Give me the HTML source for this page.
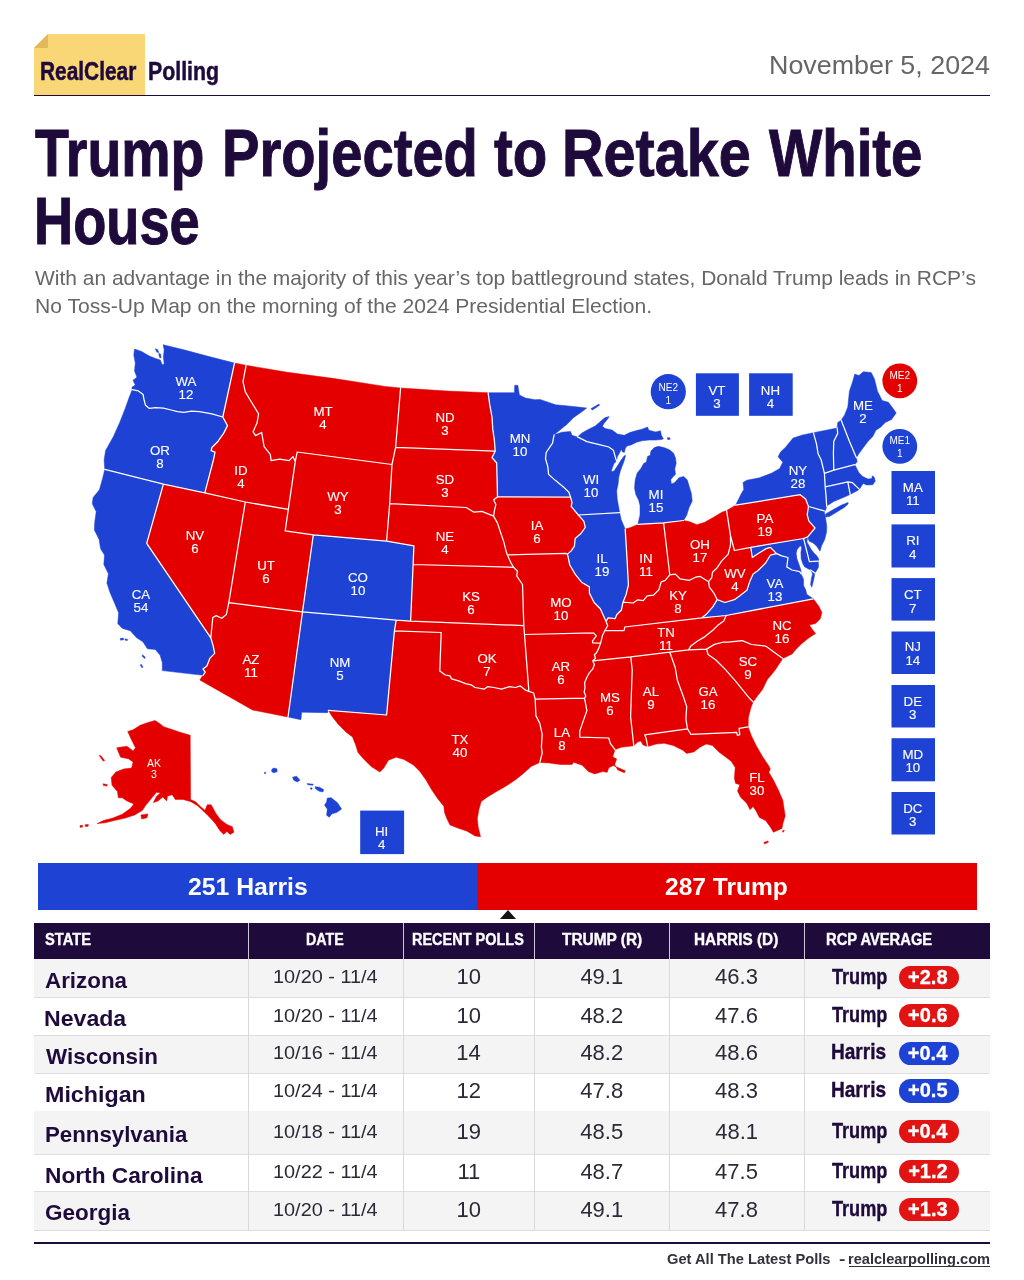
<!DOCTYPE html>
<html lang="en">
<head>
<meta charset="utf-8">
<title>RealClear Polling - Trump Projected to Retake White House</title>
<style>
html,body{margin:0;padding:0;background:#fff;}
body{width:1024px;height:1280px;position:relative;overflow:hidden;font-family:"Liberation Sans",sans-serif;color:#1f0a3c;}
.abs{position:absolute;white-space:nowrap;}
.t{transform-origin:0 0;line-height:1;display:block;}
#logo-box{left:34px;top:34px;width:111px;height:61px;background:#f9d777;}
#rule-top{left:34px;top:94.6px;width:956px;height:1.9px;background:#1f0a3c;}
#bar-blue{left:38px;top:862.7px;width:439px;height:47.5px;background:#1d42d4;}
#bar-red{left:476.6px;top:862.7px;width:500.4px;height:47.5px;background:#e50000;}
#tri{left:500.4px;top:910.4px;width:0;height:0;border-left:8px solid transparent;border-right:8px solid transparent;border-bottom:9px solid #141414;}
#thead{left:34px;top:922.6px;width:956.4px;height:36.8px;background:#1f0a3c;}

.row{left:34px;width:956.4px;border-bottom:1px solid #dedede;box-sizing:border-box;}
.odd{background:#f4f4f4;}
.vline{top:959.4px;width:1px;height:270.7px;background:#d9d9d9;}
.vlineh{top:922.6px;width:1px;height:36.8px;background:#cfc6da;}
.pill{height:23.4px;border-radius:11.7px;left:899.1px;width:59.7px;}
.pr{background:#e11313;}
.pb{background:#1d42d4;}
#rule-bot{left:34px;top:1242.1px;width:956.3px;height:1.9px;background:#1f0a3c;}
</style>
</head>
<body>
<div id="logo-box" class="abs"></div>
<svg class="abs" style="left:34px;top:34px" width="16" height="16" viewBox="0 0 16 16"><polygon points="0,0 14,0 0,14" fill="#fff"/><polygon points="14,0 14,14 0,14" fill="#e2b95a"/></svg>
<div id="rule-top" class="abs"></div>

<span class="abs t" style="left:39.81px;top:59.35px;font-size:25.4px;font-weight:bold;color:#1f0a3c;transform:scaleX(0.8218);-webkit-text-stroke:0.5px #1f0a3c;">RealClear </span>
<span class="abs t" style="left:147.88px;top:59.35px;font-size:25.4px;font-weight:bold;color:#1f0a3c;transform:scaleX(0.8403);-webkit-text-stroke:0.5px #1f0a3c;">Polling </span>
<span class="abs t" style="left:768.80px;top:52.70px;font-size:25px;color:#666666;transform:scaleX(1.0745);">November 5, 2024 </span>
<span class="abs t" style="left:34.99px;top:119.10px;font-size:67px;font-weight:bold;color:#1f0a3c;transform:scaleX(0.8278);-webkit-text-stroke:1.0px #1f0a3c;">Trump </span>
<span class="abs t" style="left:221.56px;top:119.10px;font-size:67px;font-weight:bold;color:#1f0a3c;transform:scaleX(0.8382);-webkit-text-stroke:1.0px #1f0a3c;">Projected </span>
<span class="abs t" style="left:493.93px;top:119.10px;font-size:67px;font-weight:bold;color:#1f0a3c;transform:scaleX(0.8421);-webkit-text-stroke:1.0px #1f0a3c;">to </span>
<span class="abs t" style="left:562.48px;top:119.10px;font-size:67px;font-weight:bold;color:#1f0a3c;transform:scaleX(0.8595);-webkit-text-stroke:1.0px #1f0a3c;">Retake </span>
<span class="abs t" style="left:769.17px;top:119.10px;font-size:67px;font-weight:bold;color:#1f0a3c;transform:scaleX(0.8415);-webkit-text-stroke:1.0px #1f0a3c;">White </span>
<span class="abs t" style="left:34.38px;top:186.90px;font-size:67px;font-weight:bold;color:#1f0a3c;transform:scaleX(0.8096);-webkit-text-stroke:1.0px #1f0a3c;">House </span>
<span class="abs t" style="left:34.91px;top:266.80px;font-size:21px;color:#666666;transform:scaleX(0.9988);">With an advantage in the majority of this year’s top battleground states, Donald Trump leads in RCP’s </span>
<span class="abs t" style="left:34.77px;top:295.00px;font-size:21px;color:#666666;transform:scaleX(1.0038);">No Toss-Up Map on the morning of the 2024 Presidential Election. </span>
<svg class="abs" id="map" style="left:0;top:330px" width="1024" height="530" viewBox="0 330 1024 530">
<g stroke-width="0.5" stroke-linejoin="round">
<path fill="#1d42d4" stroke="#1d42d4" d="M132.2,389.7 131.9,387.3 135.3,385 133,380.3 136.9,377.2 134.5,370.9 135.3,363.1 133.8,355.3 134.5,349.1 141.6,351.4 149.4,356.1 155.6,358.4 160.3,360 162.2,364.7 164.2,363.9 163.4,356.9 164.2,349.8 163.1,344.7 183.8,349.8 207.2,356.1 234.5,363.1 222.8,417 211.9,413.9 199.4,411.6 191.6,411.2 183.8,412.3 177.5,411.6 171.2,410 163.4,408.1 155.6,407.7 149.4,408.4 145.5,405.3 143.9,399.1 143.1,394.4 138.4,390.9ZM155.3,348.8 157.5,349.4 158.8,352.5 156.9,352.2ZM158.8,353.4 160.6,354.1 161.1,358.1 159.4,357.2Z"/>
<path fill="#1d42d4" stroke="#1d42d4" d="M104.8,469.4 104.1,460 105.6,450.6 113.4,436.6 119.7,422.5 125.2,408.4 129.1,397.5 132.2,389.7 138.4,390.9 143.1,394.4 143.9,399.1 145.5,405.3 149.4,408.4 155.6,407.7 163.4,408.1 171.2,410 177.5,411.6 183.8,412.3 191.6,411.2 199.4,411.6 211.9,413.9 222.8,417 227.5,425.6 223.6,433.4 218.1,441.2 211.9,447.5 211.1,450.6 215,452.2 213.4,460 204.8,492.8 163.4,484.2Z"/>
<path fill="#1d42d4" stroke="#1d42d4" d="M104.8,469.4 102.5,478.8 99.4,489.7 93.1,497.5 92.3,503.8 96.2,511.6 94.7,522.5 94.4,530 99.1,539.4 100.6,548.8 104.5,555 103.8,564.4 108.4,573.8 106.9,583.1 110,592.5 114.7,603.4 118.6,612.8 117.8,623.8 122.5,628.4 130.3,630.8 136.6,637.8 142.8,641.7 147.5,648.8 155.3,649.5 160,655 162.3,662.8 162.3,670.6 203,675.3 205.3,672.2 203,669.1 206.9,665.9 210,658.1 214.7,653.4 213.1,645.6 210.8,637.8 146.7,543.3 163.4,484.2ZM120.2,638.4 123.3,638.1 123.8,639.7 120.6,640.2ZM125,638.8 127.7,639.4 127.3,640.6 125.2,640.2ZM142.5,654.7 145.3,657.2 144.5,658.6 142.2,656.2ZM140.9,664.1 142.8,666.6 142.2,668 140.5,665.6Z"/>
<path fill="#e50000" stroke="#e50000" d="M163.4,484.2 204.8,492.8 245.3,502 228.8,602.7 226.4,614.4 221.7,618.3 216.2,615.6 212.8,617.5 210.8,637.8 146.7,543.3Z"/>
<path fill="#e50000" stroke="#e50000" d="M234.5,363.1 246.1,365.3 243,381.7 245.3,391.9 250,399.7 258.6,413.8 257,423.1 253.1,431.7 255.5,435.6 261.7,432.5 264.1,446.6 270.3,454.4 271.1,460.6 279.7,459.1 289.1,460.6 293,456.7 295.3,461.4 288.3,509.4 245.3,502 204.8,492.8 213.4,460 215,452.2 211.1,450.6 211.9,447.5 218.1,441.2 223.6,433.4 227.5,425.6 222.8,417Z"/>
<path fill="#e50000" stroke="#e50000" d="M246.1,365.3 287.5,372.3 334.4,378.6 385,386.4 400.6,388 395.6,447.3 392,464.5 297.2,452 295.3,461.4 293,456.7 289.1,460.6 279.7,459.1 271.1,460.6 270.3,454.4 264.1,446.6 261.7,432.5 255.5,435.6 253.1,431.7 257,423.1 258.6,413.8 250,399.7 245.3,391.9 243,381.7Z"/>
<path fill="#e50000" stroke="#e50000" d="M297.2,452 392,464.5 389.7,503.6 386.6,541.1 313.3,534.8 285.2,530.9 288.3,509.4 295.3,461.4Z"/>
<path fill="#e50000" stroke="#e50000" d="M245.3,502 288.3,509.4 285.2,530.9 313.3,534.8 302.5,611.9 228.8,602.7Z"/>
<path fill="#1d42d4" stroke="#1d42d4" d="M313.3,534.8 386.6,541.1 413.9,545.8 413.1,564.5 410.6,621.2 396.2,620.2 302.5,611.9Z"/>
<path fill="#e50000" stroke="#e50000" d="M228.8,602.7 302.5,611.9 288,717 252.5,710 199.8,680 203,675.3 205.3,672.2 203,669.1 206.9,665.9 210,658.1 214.7,653.4 213.1,645.6 210.8,637.8 212.8,617.5 216.2,615.6 221.7,618.3 226.4,614.4Z"/>
<path fill="#1d42d4" stroke="#1d42d4" d="M302.5,611.9 396.2,620.2 394.4,630.9 386.6,715 328.3,710.3 327.5,712.7 301.7,712.2 300.9,719.7 288,717Z"/>
<path fill="#e50000" stroke="#e50000" d="M400.6,388 447.5,391.1 488.1,392.7 489.7,404.4 492,416.9 492.8,429.4 494.4,440.3 495.2,451.2 395.6,447.3Z"/>
<path fill="#e50000" stroke="#e50000" d="M395.6,447.3 495.2,451.2 492,457.5 496.7,463 497.5,496.9 493.6,499.7 495.9,504.4 494.4,510.6 493.6,516.1 488.1,513.8 481.9,511.4 474.1,512.2 466.2,507.5 389.7,503.6 392,464.5Z"/>
<path fill="#e50000" stroke="#e50000" d="M389.7,503.6 466.2,507.5 474.1,512.2 481.9,511.4 488.1,513.8 493.6,516.1 497.5,523.1 500.6,532.5 503.8,541.9 506.1,551.2 507.3,554.8 511.2,563.4 513.6,567.3 413.1,564.5 413.9,545.8 386.6,541.1Z"/>
<path fill="#e50000" stroke="#e50000" d="M413.1,564.5 513.6,567.3 517.5,571.2 516.7,575.9 522.5,584.5 523.8,625.6 410.6,621.2Z"/>
<path fill="#e50000" stroke="#e50000" d="M396.2,620.2 410.6,621.2 523.8,625.6 524.5,634.5 528.9,691.4 525,689.8 520.3,685.9 515.6,687.5 509.4,686.7 501.6,689.1 493.8,687.5 487.5,686.7 484.4,689.1 475,687.5 471.9,685.2 465.6,683.6 459.4,681.2 451.6,678.9 450,675.8 445.3,675 439.8,671.1 441.2,632.5 394.4,630.9Z"/>
<path fill="#e50000" stroke="#e50000" d="M394.4,630.9 441.2,632.5 439.8,671.1 445.3,675 450,675.8 451.6,678.9 459.4,681.2 465.6,683.6 471.9,685.2 475,687.5 484.4,689.1 487.5,686.7 493.8,687.5 501.6,689.1 509.4,686.7 515.6,687.5 520.3,685.9 525,689.8 528.9,691.4 533.6,693 535.2,699.2 535.9,715.6 539.8,723.4 542.2,734.4 541.4,746.9 542.2,753.1 539.8,762.5 531.2,766.4 523.4,773.4 515.6,779.7 506.2,785.9 495.3,792.2 487.5,796.9 481.2,801.6 478.9,809.4 477.3,818.8 478.1,826.6 480.5,836.7 475,835.9 467.2,831.2 457.8,828.1 450,825 446.9,818.8 444.5,812.5 443.8,806.2 437.5,798.4 431.2,789.1 425.8,779.7 419.7,771.2 413.4,765 404.1,759.5 396.2,757.2 388.4,760.3 383.8,768.1 379.8,772 371.2,766.6 363.4,758.8 358,752.5 355.6,744.7 352.5,736.9 346.2,732.2 338.4,724.4 332.2,716.6 328.3,710.3 386.6,715Z"/>
<path fill="#1d42d4" stroke="#1d42d4" d="M488.1,392.7 514.4,392.7 514.7,385.3 517.8,385.3 519.4,395 525.6,398.1 535,399.7 540,399.4 555.6,404.8 568.2,405.9 580.5,407.3 586.7,408.1 580.5,412.8 573.7,417.6 566.8,424.4 560,429.9 554.1,434.8 552.5,443.1 546.2,452.5 545.5,458.8 547.8,466.6 548.6,474.4 555.6,480.6 563.4,486.9 568.9,492.3 570.5,497 497.5,496.9 496.7,463 492,457.5 495.2,451.2 494.4,440.3 492.8,429.4 492,416.9 489.7,404.4Z"/>
<path fill="#e50000" stroke="#e50000" d="M497.5,496.9 570.5,497 572,502.5 571.2,506.4 578.3,515 583.8,521.2 585.3,527.5 580.6,533.8 575.2,538.4 574.4,546.2 571.2,550.9 567.5,554.1 565.6,553.3 507.3,554.8 506.1,551.2 503.8,541.9 500.6,532.5 497.5,523.1 493.6,516.1 494.4,510.6 495.9,504.4 493.6,499.7Z"/>
<path fill="#e50000" stroke="#e50000" d="M507.3,554.8 565.6,553.3 567.5,554.1 569.8,565 575.3,574.4 581.6,582.2 589.4,586.9 589.4,593.1 594.1,602.5 600.3,608.8 606.1,621.5 607.7,625.8 604.9,630.5 602.6,635.2 600.6,643.1 592.8,642.8 592.4,641 596.3,635.8 593.6,632.8 524.5,634.5 523.8,625.6 522.5,584.5 516.7,575.9 517.5,571.2 513.6,567.3 511.2,563.4Z"/>
<path fill="#e50000" stroke="#e50000" d="M524.5,634.5 593.6,632.8 596.3,635.8 592.4,641 592.8,642.8 600.6,643.1 598.7,648.4 596.3,653.1 594.4,654.7 595.5,658.2 592.8,660.8 594.4,664.8 592.8,668.8 588.9,673.4 586.6,678.1 584.6,682.8 585,687.5 584.2,692.2 585.8,696.1 584.5,698.1 535.2,699.2 533.6,693 528.9,691.4Z"/>
<path fill="#e50000" stroke="#e50000" d="M535.2,699.2 584.5,698.1 586.9,710.6 583,721.6 579.8,730.9 579.8,737.2 608.8,738 610.3,743.4 615,749.7 612.7,756.7 616.6,759.1 614.7,764.5 617.8,770 624.4,772.8 625.3,770.8 613.4,765.6 608.8,767.7 607.2,772.3 602.5,771.6 594.7,773.9 588.4,771.6 582.2,765.3 573.6,762.2 572,764.5 560.3,764.5 549.4,763 539.8,762.5 542.2,753.1 541.4,746.9 542.2,734.4 539.8,723.4 535.9,715.6Z"/>
<path fill="#1d42d4" stroke="#1d42d4" d="M554.1,434.8 561.9,432.2 570.5,431.4 572,435.3 577.5,436.9 586.9,441.6 599.4,444.7 608.8,447 613.4,450.2 615.8,458.8 616.6,461.1 614,463.4 612,468.8 611.3,471.8 614,470.9 617.4,466.1 620.8,460.6 624.3,455.8 625.6,455.4 624.3,460.6 622.2,466.1 620.2,471.6 618.8,477 618.1,483.9 616.7,490.7 617.2,498.9 619.7,512.7 578.3,515 571.2,506.4 572,502.5 570.5,497 568.9,492.3 563.4,486.9 555.6,480.6 548.6,474.4 547.8,466.6 545.5,458.8 546.2,452.5 552.5,443.1Z"/>
<path fill="#1d42d4" stroke="#1d42d4" d="M578.3,515 619.7,512.7 621.2,519.7 625.2,529.1 626.9,556.9 628.4,585 626.1,594.4 623,602.2 621.4,610 616.7,614.7 615.2,618.6 608.1,617.8 606.1,621.5 600.3,608.8 594.1,602.5 589.4,593.1 589.4,586.9 581.6,582.2 575.3,574.4 569.8,565 567.5,554.1 571.2,550.9 574.4,546.2 575.2,538.4 580.6,533.8 585.3,527.5 583.8,521.2Z"/>
<path fill="#1d42d4" stroke="#1d42d4" d="M577.5,436.9 581.9,433 587.3,429.9 595.5,425.8 601,421 605.1,417.6 609.2,416.6 607.2,419.6 603.8,423.7 602.4,426.2 605.1,428.5 612,429.9 617.4,434 624.3,435.3 629.7,432.6 636.6,430.5 642,429.2 647.5,427.1 648.9,430.3 655.7,431.9 660.5,430.8 661.4,435.3 663.4,438.8 661.9,439.4 655.7,440.1 648.9,440.1 642,440.8 636.6,442.2 631.1,444.9 627,445.9 625.4,448.3 624.3,452.4 622.2,451.7 621.5,449 619.1,453.8 617.4,456.5 616.6,461.1 615.8,458.8 613.4,450.2 608.8,447 599.4,444.7 586.9,441.6ZM637.8,524.4 663.6,522.8 683.5,520.5 686.7,515.3 689.1,507.5 692.2,501.2 691.4,493.4 687.2,479.8 683.7,476.4 678.9,477.7 674.8,482.5 671.4,483.9 670.7,479.8 672.8,477 675.5,474.3 674.8,468.8 676.2,463.4 675.5,457.9 673.5,453.1 669.4,449.7 663.9,447.6 658.4,446.3 654.3,447.6 650.9,451.1 650.2,455.2 647.5,456.5 646.4,462 643.7,463.4 640.7,468.8 637.2,472.9 635.2,479.8 634.5,488 635.9,494.8 638.6,500 640,505.6 640,515ZM667.3,437.7 669.8,437.7 670.2,439.3 667.7,439.6ZM590.8,408.7 599,404 599.5,405.3 592.5,409.9Z"/>
<path fill="#e50000" stroke="#e50000" d="M625.2,529.1 630.6,527.5 637.8,524.4 663.6,522.8 669.8,574.8 665.2,580.3 661.2,581.9 658.9,589.7 653.4,595.2 647.2,595.9 643.3,600.6 637.8,599.8 633.1,603 623,602.2 626.1,594.4 628.4,585 626.9,556.9Z"/>
<path fill="#e50000" stroke="#e50000" d="M663.6,522.8 683.5,520.5 689.1,521.6 696.9,524.7 704.7,522.3 714.1,516.9 721.9,512.2 726.6,510.6 730.5,535.6 730.5,545 728.1,554.4 721.9,560.6 717.2,567.7 712.5,572.3 711.7,577.8 708.6,581.7 705,579.5 700.3,576.4 695.6,577.2 689.4,580.3 680,578.8 675.3,574.1 669.8,574.8Z"/>
<path fill="#e50000" stroke="#e50000" d="M604.9,630.5 607.7,625.8 606.1,621.5 608.1,617.8 615.2,618.6 616.7,614.7 621.4,610 623,602.2 633.1,603 637.8,599.8 643.3,600.6 647.2,595.9 653.4,595.2 658.9,589.7 661.2,581.9 665.2,580.3 669.8,574.8 675.3,574.1 680,578.8 689.4,580.3 695.6,577.2 700.3,576.4 705,579.5 708.6,581.7 709.4,587.2 714.1,593.4 717.2,599.7 712.8,606.9 706.6,613.9 701.9,617.8 624.8,627 624.1,630.5Z"/>
<path fill="#e50000" stroke="#e50000" d="M701.9,617.8 624.8,627 624.1,630.5 604.9,630.5 602.6,635.2 600.6,643.1 598.7,648.4 596.3,653.1 594.4,654.7 595.5,658.2 592.8,660.8 630.8,656.9 669.8,652.2 688.6,649.8 690.9,645.9 697.2,641.2 705,636.6 712.8,630.3 717.5,625.6 723.8,620.9 726.1,615.5Z"/>
<path fill="#e50000" stroke="#e50000" d="M592.8,660.8 630.8,656.9 632.2,670 630.6,716.9 633.8,745.8 627.5,746.6 621.2,747.3 615,749.7 610.3,743.4 608.8,738 579.8,737.2 579.8,730.9 583,721.6 586.9,710.6 584.5,698.1 585.8,696.1 584.2,692.2 585,687.5 584.6,682.8 586.6,678.1 588.9,673.4 592.8,668.8 594.4,664.8Z"/>
<path fill="#e50000" stroke="#e50000" d="M630.8,656.9 669.8,652.2 675.3,667.8 677.3,680 683.6,697.2 686.7,706.6 685.9,719.1 687.5,728.8 644.7,734.8 646.2,738.8 647.8,746.6 643.1,745 640.8,741.1 637.7,741.9 633.8,745.8 630.6,716.9 632.2,670Z"/>
<path fill="#e50000" stroke="#e50000" d="M669.8,652.2 688.6,649.8 706.6,649.1 708.1,654.5 715.9,660 725.3,669.4 736.2,681.9 742.2,689.4 750,698.8 753.1,701.9 750.8,708.1 748.4,717.5 748.1,726.9 739.1,728.4 739.8,734.7 737.5,735.5 736.7,732.3 690.9,734.4 687.5,728.8 685.9,719.1 686.7,706.6 683.6,697.2 677.3,680 675.3,667.8Z"/>
<path fill="#e50000" stroke="#e50000" d="M687.5,728.8 690.9,734.4 736.7,732.3 737.5,735.5 739.8,734.7 739.1,728.4 748.1,726.9 751.6,736.2 756.2,745.6 762.5,756.6 768.8,765.9 770.3,769.1 768.8,772.2 773.4,780 778.1,789.4 782.8,800.3 785.2,815.9 782.8,823.8 782,828.4 773.4,832.3 770.3,826.9 765.6,820.6 759.4,817.5 756.2,811.2 753.1,806.6 750,809.7 746.9,803.4 740.6,797.2 737.5,790.9 739.8,784.7 735.6,783.4 734.4,778.4 735.2,767.5 731.2,761.2 725,756.6 718.8,751.9 712.5,745.6 706.2,744.1 700,747.2 693.8,751.9 686.7,753.4 682.8,750.3 673.4,745.6 664.1,743.3 656.2,744.1 647.8,746.6 646.2,738.8 644.7,734.8ZM763.8,842.5 768,840.9 768.4,842.2 764.5,844.1ZM782.2,831.2 783.8,830 784.4,830.9 782.8,832.3Z"/>
<path fill="#e50000" stroke="#e50000" d="M706.6,649.1 714.4,644.4 723.8,642 728.1,642.2 742.2,640.6 751.6,644.5 765.6,646.1 782.8,658.6 775,670.3 767.2,679.7 762.5,689.4 757.8,695.6 753.1,701.9 750,698.8 742.2,689.4 736.2,681.9 725.3,669.4 715.9,660 708.1,654.5Z"/>
<path fill="#e50000" stroke="#e50000" d="M726.1,615.5 813.3,598.8 818.8,606.2 821.9,612.5 820.3,618.8 815.6,623.4 809.4,625 812.5,629.7 815.6,633.6 809.4,637.5 801.6,643.8 795.3,650 792.2,653.9 782.8,658.6 765.6,646.1 751.6,644.5 742.2,640.6 728.1,642.2 723.8,642 714.4,644.4 706.6,649.1 688.6,649.8 690.9,645.9 697.2,641.2 705,636.6 712.8,630.3 717.5,625.6 723.8,620.9Z"/>
<path fill="#1d42d4" stroke="#1d42d4" d="M776.6,553.6 781.7,555.9 788,557.5 786.8,566.9 791.9,570 799.7,571.6 801.2,573.9 803.6,579.4 803.6,585.6 805.9,590.3 806.7,594.2 813.3,598.8 726.1,615.5 701.9,617.8 706.6,613.9 712.8,606.9 717.2,599.7 725,602.5 734.4,599.7 739.8,595.8 746.9,590.3 750,580.9 753.1,573.9 757.8,570.8 765.6,563 770.3,555.2ZM814.9,573.1 814.1,577.8 813,582.5 811.8,587.2 810.6,584.5 811.4,578.2 812.6,573.9 810.6,570Z"/>
<path fill="#e50000" stroke="#e50000" d="M730.5,535.6 734.4,550.5 750.8,547.3 752.3,557.5 759.4,552.8 765.6,548.9 770.3,547.3 776.6,553.6 770.3,555.2 765.6,563 757.8,570.8 753.1,573.9 750,580.9 746.9,590.3 739.8,595.8 734.4,599.7 725,602.5 717.2,599.7 714.1,593.4 709.4,587.2 708.6,581.7 711.7,577.8 712.5,572.3 717.2,567.7 721.9,560.6 728.1,554.4 730.5,545Z"/>
<path fill="#e50000" stroke="#e50000" d="M726.6,510.6 735.6,505.2 800.2,494.7 805.6,499.1 808.5,506.5 807.2,514.7 808.8,520.9 815,528 807.7,536.8 803.6,538.5 750.8,547.3 734.4,550.5 730.5,535.6Z"/>
<path fill="#1d42d4" stroke="#1d42d4" d="M735.6,505.2 741.4,493.4 743.8,489.5 743,482.5 746.9,480.2 759.4,477.8 771.9,473.1 779.7,468.4 782.8,462.2 778.1,456.7 780.5,452 785.3,447.5 793.1,438.1 802.5,435 813.4,432.7 816.6,444.4 818.1,453.8 821.2,460 824.4,473.3 825.2,486.9 825.9,494.4 826.7,506.1 825.6,510.3 824.1,510.8 808.5,506.5 805.6,499.1 800.2,494.7ZM825.6,513.9 833.8,509.2 841.6,505 848.1,502.5 848.1,504.1 843.9,507.7 835.6,512.8 829.4,516.6 825.6,517Z"/>
<path fill="#1d42d4" stroke="#1d42d4" d="M808.5,506.5 824.1,510.8 825.2,516.2 826.7,525.6 826.6,531.7 824.7,539.5 821.6,545.8 820,551.2 816.9,546.6 813.8,543.4 809.1,541.1 807.7,536.8 815,528 808.8,520.9 807.2,514.7Z"/>
<path fill="#1d42d4" stroke="#1d42d4" d="M803.6,538.5 809.4,561.7 818.3,561.2 818.8,559.1 816.9,555.9 813.8,552.8 811.4,549.7 809.1,545.8 806.9,541.9 807.7,536.8Z"/>
<path fill="#1d42d4" stroke="#1d42d4" d="M750.8,547.3 803.6,538.5 809.4,561.7 818.3,561.2 818.6,566.9 816.5,570.8 814.9,573.1 810.6,570 807.5,568.4 804.8,566.9 802.8,563.8 801.2,559.1 800.9,552.8 801.6,547 800.1,545.8 797,549.7 796.2,553.6 797,559.1 799.3,565.3 800.9,570 801.2,573.9 799.7,571.6 791.9,570 786.8,566.9 788,557.5 781.7,555.9 776.6,553.6 770.3,547.3 765.6,548.9 759.4,552.8 752.3,557.5Z"/>
<path fill="#1d42d4" stroke="#1d42d4" d="M813.4,432.7 837.2,428 837.7,433.4 833.8,441.2 833.4,453.8 833.8,470.2 824.4,473.3 821.2,460 818.1,453.8 816.6,444.4Z"/>
<path fill="#1d42d4" stroke="#1d42d4" d="M837.2,428 837.7,422.5 841.2,420.2 849.4,441.2 856.4,457.7 857.2,461.6 854.8,464.7 833.8,470.2 833.4,453.8 833.8,441.2 837.7,433.4Z"/>
<path fill="#1d42d4" stroke="#1d42d4" d="M841.2,420.2 844.7,414.7 847.8,406.9 849.4,391.2 852.5,381.9 854.8,374.1 858.8,375.6 863.4,371.7 871.2,372.5 874.4,378.8 877.5,391.2 882.2,400.6 888.4,402.2 893.1,408.4 896.2,413.1 891.6,419.4 885.3,422.5 880.6,427.2 875.9,430.3 872.8,436.6 868.1,441.2 863.4,447.5 858.8,453.8 856.4,457.7 849.4,441.2Z"/>
<path fill="#1d42d4" stroke="#1d42d4" d="M824.4,473.3 833.8,470.2 854.8,464.7 856.4,467.8 858.8,472.5 862.7,476.4 868.1,479.1 872,478.4 872,475.9 874.1,476.9 875.3,481.1 872.8,484.7 866.6,485 863.4,483.4 861.1,486.6 859.5,489.4 852.5,482.7 847.8,481.9 825.2,486.9Z"/>
<path fill="#1d42d4" stroke="#1d42d4" d="M847.8,481.9 852.5,482.7 859.5,489.4 854.8,492 850.2,494.4Z"/>
<path fill="#1d42d4" stroke="#1d42d4" d="M825.2,486.9 847.8,481.9 850.2,494.4 841.6,498.3 833.8,501.4 826.7,506.1 825.9,494.4Z"/>
<path fill="#e50000" stroke="#e50000" d="M127.7,731.4 133.1,729.8 140.2,725.2 147.2,722.8 155,720.5 159.7,723.6 163.6,726.7 170.6,729.1 180,732.2 190.2,735.3 190.6,799.4 195.6,801.7 200.3,806.4 205,810.3 207.3,804.8 211.2,804.8 215.9,813.4 220.6,819.7 226.9,824.4 232.3,826.7 233.9,832.2 230,834.5 226.9,831.4 223.8,834.5 219.8,830.6 215.9,824.4 212,819.7 207.3,815 203.4,811.1 197.2,805.6 190.9,801.7 183.1,799.4 175.3,799.4 172.2,794.7 167.5,796.2 166.7,800.9 162.8,797 158.1,800.9 153.4,802.5 156.6,796.2 160.5,793.1 156.6,792.3 151.9,797.8 145.6,805.6 142.5,810.3 134.7,815 125.3,818.1 114.4,820.5 105,822.8 97.2,823.6 103.4,820.5 112.8,818.1 122.2,814.2 130,808.8 133.9,804.1 126.9,800.9 122.2,797.8 118.3,797.8 117.5,791.6 112,785.3 111.2,777.5 115.9,772 123.8,768.9 131.6,768.1 133.1,761.9 128.4,758.8 120.6,757.2 118.3,751.7 116.7,747.8 126.9,746.2 133.1,750.9 135.5,747.8 131.6,740ZM140.9,815 148,813.9 146.9,817.8 141.7,819.1ZM99.1,755.3 101.1,755.9 104.7,760.6 103.1,761.1ZM103.1,783.8 107.3,784.5 106.9,786.1 103.4,785.6ZM85.5,824.4 88.6,824.7 87.8,826.6 85,826.2ZM80,825.6 82.8,825.6 82.3,827.2 80,827.2Z"/>
<path fill="#1d42d4" stroke="#1d42d4" d="M271.6,769.7 273.4,768.1 276.9,768.8 277.2,771.6 274.2,772.8 271.9,771.9ZM264.4,772.3 265.6,772.2 265.8,773.4 264.5,773.6ZM292.5,777.2 296.6,776.2 300,780.2 297.2,781.9 293.8,780.3ZM307,783.6 313.3,784.2 312.8,785.3 307.8,784.7ZM310.6,787.8 312.2,788.1 311.9,789.4 310.5,789.1ZM315,786.7 319.5,787.2 323.8,789.7 322.8,792 318.8,791.1 315.6,788.8ZM327.3,798.1 331.2,797.7 337.5,802.8 341.6,809.1 336.7,812.5 332,813.8 329.2,817.2 326.6,815.3 327.3,809.1 324.5,805.2 326.6,802Z"/>
</g>
<path fill="none" stroke="#fff" stroke-width="1.25" stroke-linejoin="round" stroke-linecap="round" d="M234.5,363.1 222.8,417M222.8,417 211.9,413.9 199.4,411.6 191.6,411.2 183.8,412.3 177.5,411.6 171.2,410 163.4,408.1 155.6,407.7 149.4,408.4 145.5,405.3 143.9,399.1 143.1,394.4 138.4,390.9 132.2,389.7M222.8,417 227.5,425.6 223.6,433.4 218.1,441.2 211.9,447.5 211.1,450.6 215,452.2 213.4,460 204.8,492.8M163.4,484.2 204.8,492.8M104.8,469.4 163.4,484.2M210.8,637.8 213.1,645.6 214.7,653.4 210,658.1 206.9,665.9 203,669.1 205.3,672.2 203,675.3M146.7,543.3 210.8,637.8M163.4,484.2 146.7,543.3M204.8,492.8 245.3,502M245.3,502 228.8,602.7M228.8,602.7 226.4,614.4 221.7,618.3 216.2,615.6 212.8,617.5 210.8,637.8M246.1,365.3 243,381.7 245.3,391.9 250,399.7 258.6,413.8 257,423.1 253.1,431.7 255.5,435.6 261.7,432.5 264.1,446.6 270.3,454.4 271.1,460.6 279.7,459.1 289.1,460.6 293,456.7 295.3,461.4M295.3,461.4 288.3,509.4M245.3,502 288.3,509.4M400.6,388 395.6,447.3M395.6,447.3 392,464.5M297.2,452 392,464.5M297.2,452 295.3,461.4M392,464.5 389.7,503.6M389.7,503.6 386.6,541.1M313.3,534.8 386.6,541.1M285.2,530.9 313.3,534.8M288.3,509.4 285.2,530.9M313.3,534.8 302.5,611.9M228.8,602.7 302.5,611.9M386.6,541.1 413.9,545.8M413.9,545.8 413.1,564.5M413.1,564.5 410.6,621.2M396.2,620.2 410.6,621.2M302.5,611.9 396.2,620.2M302.5,611.9 288,717M394.4,630.9 396.2,620.2M386.6,715 394.4,630.9M328.3,710.3 386.6,715M488.1,392.7 489.7,404.4 492,416.9 492.8,429.4 494.4,440.3 495.2,451.2M395.6,447.3 495.2,451.2M495.2,451.2 492,457.5 496.7,463 497.5,496.9M497.5,496.9 493.6,499.7 495.9,504.4 494.4,510.6 493.6,516.1M389.7,503.6 466.2,507.5 474.1,512.2 481.9,511.4 488.1,513.8 493.6,516.1M493.6,516.1 497.5,523.1 500.6,532.5 503.8,541.9 506.1,551.2 507.3,554.8M507.3,554.8 511.2,563.4 513.6,567.3M413.1,564.5 513.6,567.3M513.6,567.3 517.5,571.2 516.7,575.9 522.5,584.5 523.8,625.6M410.6,621.2 523.8,625.6M523.8,625.6 524.5,634.5M524.5,634.5 528.9,691.4M439.8,671.1 445.3,675 450,675.8 451.6,678.9 459.4,681.2 465.6,683.6 471.9,685.2 475,687.5 484.4,689.1 487.5,686.7 493.8,687.5 501.6,689.1 509.4,686.7 515.6,687.5 520.3,685.9 525,689.8 528.9,691.4M441.2,632.5 439.8,671.1M394.4,630.9 441.2,632.5M528.9,691.4 533.6,693 535.2,699.2M535.2,699.2 535.9,715.6 539.8,723.4 542.2,734.4 541.4,746.9 542.2,753.1 539.8,762.5M554.1,434.8 552.5,443.1 546.2,452.5 545.5,458.8 547.8,466.6 548.6,474.4 555.6,480.6 563.4,486.9 568.9,492.3 570.5,497M497.5,496.9 570.5,497M570.5,497 572,502.5 571.2,506.4 578.3,515M578.3,515 583.8,521.2 585.3,527.5 580.6,533.8 575.2,538.4 574.4,546.2 571.2,550.9 567.5,554.1M507.3,554.8 565.6,553.3 567.5,554.1M567.5,554.1 569.8,565 575.3,574.4 581.6,582.2 589.4,586.9 589.4,593.1 594.1,602.5 600.3,608.8 606.1,621.5M606.1,621.5 607.7,625.8 604.9,630.5M604.9,630.5 602.6,635.2 600.6,643.1M592.8,642.8 600.6,643.1M593.6,632.8 596.3,635.8 592.4,641 592.8,642.8M524.5,634.5 593.6,632.8M600.6,643.1 598.7,648.4 596.3,653.1 594.4,654.7 595.5,658.2 592.8,660.8M592.8,660.8 594.4,664.8 592.8,668.8 588.9,673.4 586.6,678.1 584.6,682.8 585,687.5 584.2,692.2 585.8,696.1 584.5,698.1M535.2,699.2 584.5,698.1M584.5,698.1 586.9,710.6 583,721.6 579.8,730.9 579.8,737.2M579.8,737.2 608.8,738 610.3,743.4 615,749.7M577.5,436.9 586.9,441.6 599.4,444.7 608.8,447 613.4,450.2 615.8,458.8 616.6,461.1M578.3,515 619.7,512.7M625.2,529.1 626.9,556.9 628.4,585 626.1,594.4 623,602.2M623,602.2 621.4,610 616.7,614.7 615.2,618.6 608.1,617.8 606.1,621.5M637.8,524.4 663.6,522.8M663.6,522.8 683.5,520.5M663.6,522.8 669.8,574.8M669.8,574.8 665.2,580.3 661.2,581.9 658.9,589.7 653.4,595.2 647.2,595.9 643.3,600.6 637.8,599.8 633.1,603 623,602.2M726.6,510.6 730.5,535.6M730.5,535.6 730.5,545 728.1,554.4 721.9,560.6 717.2,567.7 712.5,572.3 711.7,577.8 708.6,581.7M669.8,574.8 675.3,574.1 680,578.8 689.4,580.3 695.6,577.2 700.3,576.4 705,579.5 708.6,581.7M708.6,581.7 709.4,587.2 714.1,593.4 717.2,599.7M717.2,599.7 712.8,606.9 706.6,613.9 701.9,617.8M701.9,617.8 624.8,627 624.1,630.5 604.9,630.5M592.8,660.8 630.8,656.9M630.8,656.9 669.8,652.2M669.8,652.2 688.6,649.8M726.1,615.5 723.8,620.9 717.5,625.6 712.8,630.3 705,636.6 697.2,641.2 690.9,645.9 688.6,649.8M701.9,617.8 726.1,615.5M630.8,656.9 632.2,670 630.6,716.9 633.8,745.8M669.8,652.2 675.3,667.8 677.3,680 683.6,697.2 686.7,706.6 685.9,719.1 687.5,728.8M644.7,734.8 687.5,728.8M647.8,746.6 646.2,738.8 644.7,734.8M688.6,649.8 706.6,649.1M706.6,649.1 708.1,654.5 715.9,660 725.3,669.4 736.2,681.9 742.2,689.4 750,698.8 753.1,701.9M687.5,728.8 690.9,734.4 736.7,732.3 737.5,735.5 739.8,734.7 739.1,728.4 748.1,726.9M706.6,649.1 714.4,644.4 723.8,642 728.1,642.2 742.2,640.6 751.6,644.5 765.6,646.1 782.8,658.6M726.1,615.5 813.3,598.8M776.6,553.6 781.7,555.9 788,557.5 786.8,566.9 791.9,570 799.7,571.6 801.2,573.9M717.2,599.7 725,602.5 734.4,599.7 739.8,595.8 746.9,590.3 750,580.9 753.1,573.9 757.8,570.8 765.6,563 770.3,555.2 776.6,553.6M814.9,573.1 810.6,570M730.5,535.6 734.4,550.5M734.4,550.5 750.8,547.3M750.8,547.3 752.3,557.5 759.4,552.8 765.6,548.9 770.3,547.3 776.6,553.6M735.6,505.2 800.2,494.7 805.6,499.1 808.5,506.5M808.5,506.5 807.2,514.7 808.8,520.9 815,528 807.7,536.8M807.7,536.8 803.6,538.5M750.8,547.3 803.6,538.5M813.4,432.7 816.6,444.4 818.1,453.8 821.2,460 824.4,473.3M824.4,473.3 825.2,486.9M825.2,486.9 825.9,494.4 826.7,506.1M808.5,506.5 824.1,510.8M803.6,538.5 809.4,561.7M809.4,561.7 818.3,561.2M837.2,428 837.7,433.4 833.8,441.2 833.4,453.8 833.8,470.2M824.4,473.3 833.8,470.2M841.2,420.2 849.4,441.2 856.4,457.7M833.8,470.2 854.8,464.7M847.8,481.9 852.5,482.7 859.5,489.4M825.2,486.9 847.8,481.9M847.8,481.9 850.2,494.4"/>
<rect x="695.9" y="373.3" width="43" height="42.5" fill="#1d42d4"/>
<rect x="749.1" y="373.3" width="43.6" height="42.5" fill="#1d42d4"/>
<rect x="891.5" y="471" width="43.5" height="43" fill="#1d42d4"/>
<rect x="891.5" y="524.4" width="43.5" height="43.1" fill="#1d42d4"/>
<rect x="891.5" y="578.1" width="43.5" height="42.5" fill="#1d42d4"/>
<rect x="891.5" y="631.5" width="43.5" height="42.5" fill="#1d42d4"/>
<rect x="891.5" y="685" width="43.5" height="42.5" fill="#1d42d4"/>
<rect x="891.5" y="738.2" width="43.5" height="43.1" fill="#1d42d4"/>
<rect x="891.5" y="792" width="43.5" height="42.5" fill="#1d42d4"/>
<rect x="360.2" y="810.6" width="43.9" height="43.5" fill="#1d42d4"/>
<circle cx="668.3" cy="391.7" r="17.6" fill="#1d42d4"/>
<circle cx="899.8" cy="380.8" r="17.4" fill="#e50000"/>
<circle cx="899.8" cy="446.4" r="17.4" fill="#1d42d4"/>
<g fill="#fff" font-family="'Liberation Sans',sans-serif" text-anchor="middle" font-size="13.3" stroke="#fff" stroke-width="0.12">
<text x="186" y="385.5">WA</text><text x="186" y="399">12</text>
<text x="160" y="454.5">OR</text><text x="160" y="468">8</text>
<text x="141" y="598.5">CA</text><text x="141" y="612">54</text>
<text x="195" y="539.5">NV</text><text x="195" y="553">6</text>
<text x="241" y="474.5">ID</text><text x="241" y="488">4</text>
<text x="323" y="415.5">MT</text><text x="323" y="429">4</text>
<text x="338" y="500.5">WY</text><text x="338" y="514">3</text>
<text x="266" y="569.5">UT</text><text x="266" y="583">6</text>
<text x="358" y="581.5">CO</text><text x="358" y="595">10</text>
<text x="251" y="663.5">AZ</text><text x="251" y="677">11</text>
<text x="340" y="666.5">NM</text><text x="340" y="680">5</text>
<text x="445" y="421.5">ND</text><text x="445" y="435">3</text>
<text x="445" y="483.5">SD</text><text x="445" y="497">3</text>
<text x="445" y="540.5">NE</text><text x="445" y="554">4</text>
<text x="471" y="600.5">KS</text><text x="471" y="614">6</text>
<text x="487" y="662.5">OK</text><text x="487" y="676">7</text>
<text x="460" y="743.5">TX</text><text x="460" y="757">40</text>
<text x="520" y="442.5">MN</text><text x="520" y="456">10</text>
<text x="537" y="529.5">IA</text><text x="537" y="543">6</text>
<text x="561" y="606.5">MO</text><text x="561" y="620">10</text>
<text x="561" y="670.5">AR</text><text x="561" y="684">6</text>
<text x="562" y="736.5">LA</text><text x="562" y="750">8</text>
<text x="591" y="483.5">WI</text><text x="591" y="497">10</text>
<text x="602" y="562.5">IL</text><text x="602" y="576">19</text>
<text x="656" y="498.5">MI</text><text x="656" y="512">15</text>
<text x="646" y="562.5">IN</text><text x="646" y="576">11</text>
<text x="700" y="548.5">OH</text><text x="700" y="562">17</text>
<text x="678" y="599.5">KY</text><text x="678" y="613">8</text>
<text x="666" y="636.5">TN</text><text x="666" y="650">11</text>
<text x="610" y="701.5">MS</text><text x="610" y="715">6</text>
<text x="651" y="695.5">AL</text><text x="651" y="709">9</text>
<text x="708" y="695.5">GA</text><text x="708" y="709">16</text>
<text x="757" y="781.5">FL</text><text x="757" y="795">30</text>
<text x="748" y="665.5">SC</text><text x="748" y="679">9</text>
<text x="782" y="629.5">NC</text><text x="782" y="643">16</text>
<text x="775" y="587.5">VA</text><text x="775" y="601">13</text>
<text x="735" y="577.5">WV</text><text x="735" y="591">4</text>
<text x="765" y="522.5">PA</text><text x="765" y="536">19</text>
<text x="798" y="474.5">NY</text><text x="798" y="488">28</text>
<text x="863" y="409.5">ME</text><text x="863" y="423">2</text>
<text x="716.9" y="394.7">VT</text><text x="716.9" y="408.4">3</text>
<text x="770.4" y="394.7">NH</text><text x="770.4" y="408.4">4</text>
<text x="912.8" y="491.5">MA</text><text x="912.8" y="505">11</text>
<text x="912.8" y="545.4">RI</text><text x="912.8" y="558.8">4</text>
<text x="912.8" y="599">CT</text><text x="912.8" y="612.5">7</text>
<text x="912.8" y="651.2">NJ</text><text x="912.8" y="664.8">14</text>
<text x="912.8" y="705.5">DE</text><text x="912.8" y="718.9">3</text>
<text x="912.8" y="759">MD</text><text x="912.8" y="772.4">10</text>
<text x="912.8" y="812.5">DC</text><text x="912.8" y="825.9">3</text>
<text x="381.6" y="835.6">HI</text><text x="381.6" y="848.9">4</text>
</g>
<g fill="#fff" font-family="'Liberation Sans',sans-serif" text-anchor="middle" font-size="10">
<text x="668.3" y="391.2">NE2</text><text x="668.3" y="404">1</text>
<text x="899.8" y="379">ME2</text><text x="899.8" y="391.9">1</text>
<text x="899.8" y="444">ME1</text><text x="899.8" y="456.9">1</text>
<text x="154" y="766.5" font-size="10.5">AK</text><text x="154" y="777.5" font-size="10.5">3</text>
</g></svg>

<div id="bar-blue" class="abs"></div>
<div id="bar-red" class="abs"></div>
<span class="abs t" style="left:188.44px;top:874.70px;font-size:24px;font-weight:bold;color:#fff;transform:scaleX(1.0309);">251 Harris </span><span class="abs t" style="left:665.15px;top:874.70px;font-size:24px;font-weight:bold;color:#fff;transform:scaleX(1.0234);">287 Trump </span>
<div id="tri" class="abs"></div>
<div id="thead" class="abs"></div>
<span class="abs t" style="left:45.45px;top:931.10px;font-size:17.4px;font-weight:bold;color:#fff;transform:scaleX(0.8440);-webkit-text-stroke:0.4px #fff;">STATE </span>
<span class="abs t" style="left:306.01px;top:931.10px;font-size:17.4px;font-weight:bold;color:#fff;transform:scaleX(0.8201);-webkit-text-stroke:0.4px #fff;">DATE </span>
<span class="abs t" style="left:412.10px;top:931.10px;font-size:17.4px;font-weight:bold;color:#fff;transform:scaleX(0.8328);-webkit-text-stroke:0.4px #fff;">RECENT POLLS </span>
<span class="abs t" style="left:561.60px;top:931.10px;font-size:17.4px;font-weight:bold;color:#fff;transform:scaleX(0.8868);-webkit-text-stroke:0.4px #fff;">TRUMP (R) </span>
<span class="abs t" style="left:693.85px;top:931.10px;font-size:17.4px;font-weight:bold;color:#fff;transform:scaleX(0.8813);-webkit-text-stroke:0.4px #fff;">HARRIS (D) </span>
<span class="abs t" style="left:826.08px;top:931.10px;font-size:17.4px;font-weight:bold;color:#fff;transform:scaleX(0.8473);-webkit-text-stroke:0.4px #fff;">RCP AVERAGE </span>
<div class="abs row odd" style="top:959.4px;height:39.1px"></div>
<span class="abs t" style="left:45.14px;top:970.00px;font-size:22.5px;font-weight:bold;color:#1f0a3c;transform:scaleX(0.9940);">Arizona </span>
<span class="abs t" style="left:273.13px;top:967.40px;font-size:19px;color:#2b2936;transform:scaleX(1.0460);">10/20 - 11/4 </span>
<span class="abs t" style="left:456.46px;top:966.40px;font-size:22px;color:#2b2936;transform:scaleX(1.0000);">10 </span>
<span class="abs t" style="left:580.38px;top:966.40px;font-size:22px;color:#2b2936;transform:scaleX(1.0000);">49.1 </span>
<span class="abs t" style="left:715.12px;top:966.40px;font-size:22px;color:#2b2936;transform:scaleX(1.0000);">46.3 </span>
<span class="abs t" style="left:831.57px;top:966.50px;font-size:21.4px;font-weight:bold;color:#1f0a3c;transform:scaleX(0.8473);-webkit-text-stroke:0.4px #1f0a3c;">Trump </span>
<div class="abs pill pr" style="top:965.5px"></div>
<span class="abs t" style="left:908.05px;top:966.55px;font-size:20px;font-weight:bold;color:#fff;transform:scaleX(1.0000);-webkit-text-stroke:0.3px #fff;">+2.8 </span>
<div class="abs row " style="top:998px;height:38.1px"></div>
<span class="abs t" style="left:44.15px;top:1008.10px;font-size:22.5px;font-weight:bold;color:#1f0a3c;transform:scaleX(1.0269);">Nevada </span>
<span class="abs t" style="left:273.13px;top:1005.50px;font-size:19px;color:#2b2936;transform:scaleX(1.0460);">10/20 - 11/4 </span>
<span class="abs t" style="left:456.46px;top:1004.50px;font-size:22px;color:#2b2936;transform:scaleX(1.0000);">10 </span>
<span class="abs t" style="left:580.39px;top:1004.50px;font-size:22px;color:#2b2936;transform:scaleX(1.0000);">48.2 </span>
<span class="abs t" style="left:715.12px;top:1004.50px;font-size:22px;color:#2b2936;transform:scaleX(1.0000);">47.6 </span>
<span class="abs t" style="left:831.57px;top:1004.60px;font-size:21.4px;font-weight:bold;color:#1f0a3c;transform:scaleX(0.8473);-webkit-text-stroke:0.4px #1f0a3c;">Trump </span>
<div class="abs pill pr" style="top:1003.6px"></div>
<span class="abs t" style="left:908.10px;top:1004.65px;font-size:20px;font-weight:bold;color:#fff;transform:scaleX(1.0000);-webkit-text-stroke:0.3px #fff;">+0.6 </span>
<div class="abs row odd" style="top:1035.6px;height:38.6px"></div>
<span class="abs t" style="left:45.68px;top:1045.95px;font-size:22.5px;font-weight:bold;color:#1f0a3c;transform:scaleX(0.9964);">Wisconsin </span>
<span class="abs t" style="left:273.13px;top:1043.35px;font-size:19px;color:#2b2936;transform:scaleX(1.0460);">10/16 - 11/4 </span>
<span class="abs t" style="left:456.35px;top:1042.35px;font-size:22px;color:#2b2936;transform:scaleX(1.0000);">14 </span>
<span class="abs t" style="left:580.39px;top:1042.35px;font-size:22px;color:#2b2936;transform:scaleX(1.0000);">48.2 </span>
<span class="abs t" style="left:715.12px;top:1042.35px;font-size:22px;color:#2b2936;transform:scaleX(1.0000);">48.6 </span>
<span class="abs t" style="left:831.20px;top:1042.45px;font-size:21.4px;font-weight:bold;color:#1f0a3c;transform:scaleX(0.8907);-webkit-text-stroke:0.4px #1f0a3c;">Harris </span>
<div class="abs pill pb" style="top:1041.5px"></div>
<span class="abs t" style="left:907.79px;top:1042.50px;font-size:20px;font-weight:bold;color:#fff;transform:scaleX(1.0000);-webkit-text-stroke:0.3px #fff;">+0.4 </span>
<div class="abs row " style="top:1073.7px;height:38.1px"></div>
<span class="abs t" style="left:44.94px;top:1083.80px;font-size:22.5px;font-weight:bold;color:#1f0a3c;transform:scaleX(1.0338);">Michigan </span>
<span class="abs t" style="left:273.13px;top:1081.20px;font-size:19px;color:#2b2936;transform:scaleX(1.0460);">10/24 - 11/4 </span>
<span class="abs t" style="left:456.58px;top:1080.20px;font-size:22px;color:#2b2936;transform:scaleX(1.0000);">12 </span>
<span class="abs t" style="left:580.32px;top:1080.20px;font-size:22px;color:#2b2936;transform:scaleX(1.0000);">47.8 </span>
<span class="abs t" style="left:715.12px;top:1080.20px;font-size:22px;color:#2b2936;transform:scaleX(1.0000);">48.3 </span>
<span class="abs t" style="left:831.20px;top:1080.30px;font-size:21.4px;font-weight:bold;color:#1f0a3c;transform:scaleX(0.8907);-webkit-text-stroke:0.4px #1f0a3c;">Harris </span>
<div class="abs pill pb" style="top:1079.3px"></div>
<span class="abs t" style="left:908.02px;top:1080.35px;font-size:20px;font-weight:bold;color:#fff;transform:scaleX(1.0000);-webkit-text-stroke:0.3px #fff;">+0.5 </span>
<div class="abs row odd" style="top:1111.3px;height:43.6px"></div>
<span class="abs t" style="left:45.01px;top:1124.15px;font-size:22.5px;font-weight:bold;color:#1f0a3c;transform:scaleX(0.9891);">Pennsylvania </span>
<span class="abs t" style="left:273.13px;top:1121.55px;font-size:19px;color:#2b2936;transform:scaleX(1.0460);">10/18 - 11/4 </span>
<span class="abs t" style="left:456.55px;top:1120.55px;font-size:22px;color:#2b2936;transform:scaleX(1.0000);">19 </span>
<span class="abs t" style="left:580.30px;top:1120.55px;font-size:22px;color:#2b2936;transform:scaleX(1.0000);">48.5 </span>
<span class="abs t" style="left:715.18px;top:1120.55px;font-size:22px;color:#2b2936;transform:scaleX(1.0000);">48.1 </span>
<span class="abs t" style="left:831.57px;top:1120.65px;font-size:21.4px;font-weight:bold;color:#1f0a3c;transform:scaleX(0.8473);-webkit-text-stroke:0.4px #1f0a3c;">Trump </span>
<div class="abs pill pr" style="top:1119.6px"></div>
<span class="abs t" style="left:907.79px;top:1120.70px;font-size:20px;font-weight:bold;color:#fff;transform:scaleX(1.0000);-webkit-text-stroke:0.3px #fff;">+0.4 </span>
<div class="abs row " style="top:1154.4px;height:38.1px"></div>
<span class="abs t" style="left:44.98px;top:1164.50px;font-size:22.5px;font-weight:bold;color:#1f0a3c;transform:scaleX(1.0084);">North Carolina </span>
<span class="abs t" style="left:273.13px;top:1161.90px;font-size:19px;color:#2b2936;transform:scaleX(1.0460);">10/22 - 11/4 </span>
<span class="abs t" style="left:457.38px;top:1160.90px;font-size:22px;color:#2b2936;transform:scaleX(1.0000);">11 </span>
<span class="abs t" style="left:580.39px;top:1160.90px;font-size:22px;color:#2b2936;transform:scaleX(1.0000);">48.7 </span>
<span class="abs t" style="left:715.10px;top:1160.90px;font-size:22px;color:#2b2936;transform:scaleX(1.0000);">47.5 </span>
<span class="abs t" style="left:831.57px;top:1161.00px;font-size:21.4px;font-weight:bold;color:#1f0a3c;transform:scaleX(0.8473);-webkit-text-stroke:0.4px #1f0a3c;">Trump </span>
<div class="abs pill pr" style="top:1160.0px"></div>
<span class="abs t" style="left:908.14px;top:1161.05px;font-size:20px;font-weight:bold;color:#fff;transform:scaleX(1.0000);-webkit-text-stroke:0.3px #fff;">+1.2 </span>
<div class="abs row odd" style="top:1192px;height:38.6px"></div>
<span class="abs t" style="left:44.78px;top:1202.35px;font-size:22.5px;font-weight:bold;color:#1f0a3c;transform:scaleX(0.9983);">Georgia </span>
<span class="abs t" style="left:273.13px;top:1199.75px;font-size:19px;color:#2b2936;transform:scaleX(1.0460);">10/20 - 11/4 </span>
<span class="abs t" style="left:456.46px;top:1198.75px;font-size:22px;color:#2b2936;transform:scaleX(1.0000);">10 </span>
<span class="abs t" style="left:580.38px;top:1198.75px;font-size:22px;color:#2b2936;transform:scaleX(1.0000);">49.1 </span>
<span class="abs t" style="left:715.12px;top:1198.75px;font-size:22px;color:#2b2936;transform:scaleX(1.0000);">47.8 </span>
<span class="abs t" style="left:831.57px;top:1198.85px;font-size:21.4px;font-weight:bold;color:#1f0a3c;transform:scaleX(0.8473);-webkit-text-stroke:0.4px #1f0a3c;">Trump </span>
<div class="abs pill pr" style="top:1197.8px"></div>
<span class="abs t" style="left:908.10px;top:1198.90px;font-size:20px;font-weight:bold;color:#fff;transform:scaleX(1.0000);-webkit-text-stroke:0.3px #fff;">+1.3 </span>
<div class="abs vline" style="left:248.1px"></div>
<div class="abs vlineh" style="left:248.1px"></div>
<div class="abs vline" style="left:403.0px"></div>
<div class="abs vlineh" style="left:403.0px"></div>
<div class="abs vline" style="left:533.8px"></div>
<div class="abs vlineh" style="left:533.8px"></div>
<div class="abs vline" style="left:668.7px"></div>
<div class="abs vlineh" style="left:668.7px"></div>
<div class="abs vline" style="left:803.7px"></div>
<div class="abs vlineh" style="left:803.7px"></div>
<div id="rule-bot" class="abs"></div>
<span class="abs t" style="left:666.50px;top:1250.70px;font-size:15.3px;font-weight:bold;color:#33313c;transform:scaleX(0.9600);">Get All The Latest Polls </span><span class="abs t" style="left:838.55px;top:1250.70px;font-size:15.3px;font-weight:bold;color:#33313c;transform:scaleX(1.2613);">- </span><span class="abs t" style="left:848.24px;top:1250.70px;font-size:15.3px;font-weight:bold;color:#33313c;transform:scaleX(0.9548);">realclearpolling.com </span><div class="abs" style="left:849px;top:1265.6px;width:140.6px;height:1.2px;background:#33313c"></div>
</body>
</html>
